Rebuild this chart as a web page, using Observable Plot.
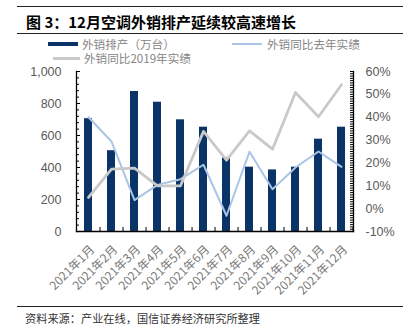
<!DOCTYPE html>
<html><head><meta charset="utf-8">
<script src="https://cdn.jsdelivr.net/npm/d3@7"></script>
<script src="https://cdn.jsdelivr.net/npm/@observablehq/plot@0.6"></script>
<style>
body{margin:0;background:#fff;}
#wrap{position:relative;width:412px;height:329px;overflow:hidden;font-family:"Noto Sans CJK SC","Liberation Sans",sans-serif;}
.abs{position:absolute;}
.hl{position:absolute;left:17px;width:386px;height:1px;background:#222;}
.lg{position:absolute;font-size:11.6px;color:#858585;line-height:13px;white-space:nowrap;}
#plot{position:absolute;left:0;top:0;}
</style></head>
<body>
<div id="wrap">
  <div class="hl" style="top:6px"></div>
  <div class="abs" style="left:26px;top:12px;font-size:15px;font-weight:bold;line-height:19px;color:#000;white-space:nowrap">图 3：12月空调外销排产延续较高速增长</div>
  <div class="hl" style="top:33px"></div>
  <div id="plot"></div>
  <div class="abs" style="left:48px;top:42px;width:30px;height:4px;background:#0a3468"></div>
  <div class="lg" style="left:82px;top:37.5px">外销排产（万台）</div>
  <div class="abs" style="left:232px;top:43px;width:30px;height:2px;background:#a9c4e4"></div>
  <div class="lg" style="left:267px;top:37.5px">外销同比去年实绩</div>
  <div class="abs" style="left:53px;top:57px;width:27px;height:3px;background:#c9c9c9"></div>
  <div class="lg" style="left:84px;top:52px">外销同比2019年实绩</div>
  <div class="hl" style="top:306px"></div>
  <div class="abs" style="left:25px;top:311px;font-size:11.2px;line-height:14px;color:#333;white-space:nowrap">资料来源：产业在线，国信证券经济研究所整理</div>
</div>
<script>
const months = ["2021年1月","2021年2月","2021年3月","2021年4月","2021年5月","2021年6月","2021年7月","2021年8月","2021年9月","2021年10月","2021年11月","2021年12月"];
const exportsOutput = [705, 505, 875, 808, 698, 652, 460, 402, 385, 402, 577, 652];
const yoyLastYear = [40, 29.4, 3.7, 10.4, 12.9, 19.2, -3.1, 24.9, 8.5, 18, 25, 18.3];
const yoy2019 = [4.9, 17.3, 17.7, 10, 10, 33.8, 21.2, 34, 26, 50.8, 40.2, 54.2];
const leftTicks = [0, 200, 400, 600, 800, 1000];
const rightTicks = [-10, 0, 10, 20, 30, 40, 50, 60];

const W = 412, H = 329, mt = 71, mb = 98, ml = 76, mr = 59;
const fw = W - ml - mr, fh = H - mt - mb;
const step = fw / months.length;
const toLeft = p => (p + 10) / 70 * 1000;

const bars = months.map((m, i) => ({m, v: exportsOutput[i]}));
const l1 = months.map((m, i) => ({m, v: toLeft(yoyLastYear[i])}));
const l2 = months.map((m, i) => ({m, v: toLeft(yoy2019[i])}));
const minorL = d3.range(0, 1001, 40);
const minorR = d3.range(-10, 61, 1).map(toLeft);

const chart = Plot.plot({
  width: W, height: H,
  marginTop: mt, marginBottom: mb, marginLeft: ml, marginRight: mr,
  style: {background: "transparent", overflow: "visible"},
  x: {type: "band", domain: months, paddingInner: 0.66, paddingOuter: 0.33, axis: null},
  y: {domain: [0, 1000], axis: null},
  marks: [
    Plot.barY(bars, {x: "m", y: "v", fill: "#0a3468"}),
    Plot.line(l1, {x: "m", y: "v", stroke: "#a9c4e4", strokeWidth: 2}),
    Plot.line(l2, {x: "m", y: "v", stroke: "#c9c9c9", strokeWidth: 2.8}),
    Plot.frame({anchor: "left", stroke: "#000", strokeWidth: 1.3}),
    Plot.frame({anchor: "right", stroke: "#000", strokeWidth: 1.3}),
    Plot.frame({anchor: "bottom", stroke: "#000", strokeWidth: 1.3}),
    Plot.tickY(minorL, {y: d => d, stroke: "#000", insetRight: fw - 3}),
    Plot.tickY(leftTicks, {y: d => d, stroke: "#000", insetRight: fw - 4}),
    Plot.tickY(minorR, {y: d => d, stroke: "#000", insetLeft: fw - 3}),
    Plot.tickX(months, {x: d => d, stroke: "#000", insetTop: fh - 4, dx: step / 2}),
    Plot.axisY(leftTicks, {anchor: "left", label: null, tickSize: 0, tickPadding: 15, tickFormat: d3.format(","), fontSize: 12.5, color: "#595959", fontFamily: "Liberation Sans"}),
    Plot.axisY(rightTicks.map(toLeft), {anchor: "right", label: null, tickSize: 0, tickPadding: 12, tickFormat: v => Math.round(v * 0.07 - 10) + "%", fontSize: 12.5, color: "#595959", fontFamily: "Liberation Sans"}),
    Plot.axisX({anchor: "bottom", label: null, tickSize: 0, tickPadding: 16, dx: 4, tickRotate: -45, fontSize: 12, color: "#7a7a7a", fontFamily: "Noto Sans CJK SC"})
  ]
});
document.getElementById("plot").appendChild(chart);
</script>
</body></html>
